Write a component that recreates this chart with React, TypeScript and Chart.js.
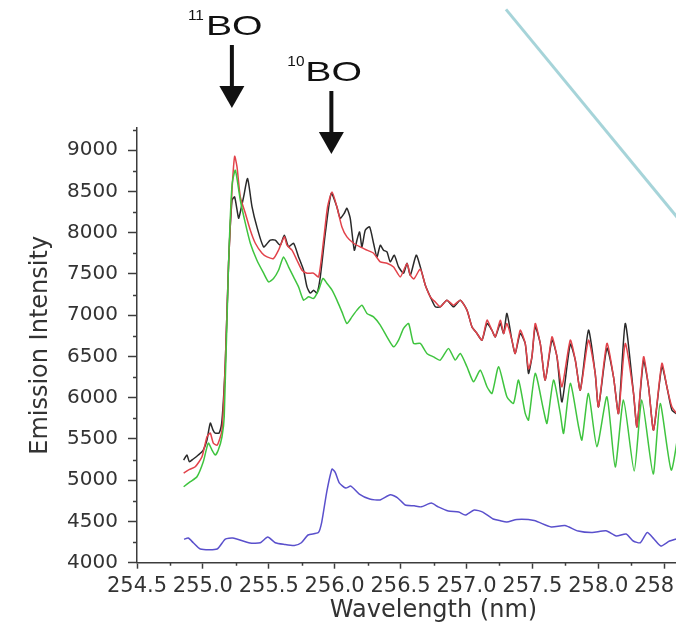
import React, { useEffect, useRef } from 'react';
import { Chart, registerables } from 'chart.js';

Chart.register(...registerables);

// ---- Axis settings ----
const X_MIN = 254.5;
const X_MAX = 259.0;
const Y_MIN = 4000;
const Y_MAX = 9270;
const xTickValues = [254.5, 255.0, 255.5, 256.0, 256.5, 257.0, 257.5, 258.0, 258.5, 259.0];
const xMinorTickValues = [254.75, 255.25, 255.75, 256.25, 256.75, 257.25, 257.75, 258.25, 258.75];
const yTickValues = [4000, 4500, 5000, 5500, 6000, 6500, 7000, 7500, 8000, 8500, 9000];
const yMinorTickValues = [4250, 4750, 5250, 5750, 6250, 6750, 7250, 7750, 8250, 8750, 9250];
const X_TITLE = 'Wavelength (nm)';
const Y_TITLE = 'Emission Intensity';

// ---- Peak annotations (isotope mass, wavelength in nm) ----
const peakMasses = ['11', '10'];
const peakWavelengths = [255.22, 255.975];

// ---- Series: [wavelength nm, intensity] ----
const blackPoints: number[][] = [
  [254.854, 5244], [254.879, 5305], [254.897, 5224], [254.927, 5257], [254.965, 5305], [255.003, 5366],
  [255.031, 5487], [255.056, 5693], [255.077, 5608], [255.094, 5571], [255.124, 5575], [255.145, 5729],
  [255.17, 6420], [255.195, 7631], [255.221, 8394], [255.241, 8434], [255.271, 8176], [255.284, 8252],
  [255.309, 8434], [255.339, 8657], [255.373, 8313], [255.41, 8071], [255.461, 7829], [255.511, 7910],
  [255.549, 7910], [255.587, 7849], [255.618, 7970], [255.65, 7829], [255.688, 7873], [255.726, 7707],
  [255.764, 7546], [255.79, 7344], [255.815, 7268], [255.84, 7304], [255.866, 7268], [255.891, 7465],
  [255.929, 7994], [255.974, 8479], [256.017, 8313], [256.042, 8176], [256.073, 8237], [256.093, 8297],
  [256.118, 8176], [256.149, 7789], [256.169, 7910], [256.189, 8010], [256.207, 7828], [256.232, 8031],
  [256.265, 8071], [256.295, 7873], [256.321, 7707], [256.346, 7849], [256.371, 7789], [256.397, 7768],
  [256.422, 7647], [256.452, 7728], [256.485, 7586], [256.523, 7510], [256.549, 7631], [256.574, 7486],
  [256.619, 7728], [256.65, 7586], [256.688, 7364], [256.726, 7223], [256.764, 7102], [256.802, 7102],
  [256.852, 7183], [256.902, 7102], [256.953, 7183], [257.004, 7062], [257.042, 6859], [257.08, 6779],
  [257.118, 6698], [257.156, 6900], [257.193, 6819], [257.219, 6738], [257.257, 6900], [257.282, 6779],
  [257.307, 7022], [257.345, 6698], [257.37, 6537], [257.408, 6780], [257.446, 6658], [257.471, 6295],
  [257.497, 6496], [257.522, 6860], [257.56, 6658], [257.598, 6214], [257.649, 6700], [257.687, 6496],
  [257.725, 5950], [257.788, 6650], [257.826, 6456], [257.864, 6092], [257.926, 6819], [257.977, 6295],
  [258.002, 5890], [258.066, 6600], [258.116, 6254], [258.154, 5810], [258.205, 6900], [258.268, 6052],
  [258.294, 5648], [258.344, 6450], [258.382, 6133], [258.42, 5608], [258.483, 6380], [258.521, 6133],
  [258.559, 5850], [258.6, 5800],
];

const redPoints: number[][] = [
  [254.854, 5087], [254.889, 5123], [254.942, 5163], [254.993, 5284], [255.031, 5527], [255.056, 5571],
  [255.079, 5450], [255.109, 5426], [255.145, 5608], [255.17, 6420], [255.195, 7631], [255.221, 8515],
  [255.241, 8927], [255.259, 8798], [255.284, 8434], [255.322, 8237], [255.36, 8031], [255.398, 7873],
  [255.449, 7752], [255.487, 7707], [255.536, 7688], [255.574, 7789], [255.618, 7950], [255.638, 7849],
  [255.676, 7789], [255.714, 7667], [255.752, 7546], [255.79, 7510], [255.84, 7510], [255.878, 7465],
  [255.916, 7910], [255.946, 8313], [255.98, 8495], [256.017, 8313], [256.055, 8071], [256.093, 7950],
  [256.143, 7873], [256.194, 7828], [256.245, 7789], [256.295, 7752], [256.346, 7647], [256.397, 7631],
  [256.447, 7586], [256.498, 7465], [256.549, 7627], [256.574, 7486], [256.601, 7440], [256.65, 7560],
  [256.688, 7364], [256.726, 7223], [256.764, 7160], [256.802, 7102], [256.852, 7183], [256.902, 7122],
  [256.953, 7183], [257.004, 7062], [257.042, 6859], [257.08, 6779], [257.118, 6698], [257.156, 6940],
  [257.193, 6819], [257.219, 6738], [257.257, 6940], [257.282, 6779], [257.307, 6900], [257.345, 6698],
  [257.37, 6537], [257.408, 6819], [257.446, 6658], [257.471, 6350], [257.497, 6496], [257.522, 6900],
  [257.56, 6658], [257.598, 6214], [257.649, 6738], [257.687, 6496], [257.725, 6133], [257.788, 6698],
  [257.826, 6456], [257.864, 6092], [257.926, 6698], [257.977, 6295], [258.002, 5890], [258.066, 6658],
  [258.116, 6254], [258.154, 5810], [258.205, 6658], [258.268, 6052], [258.294, 5648], [258.344, 6496],
  [258.382, 6133], [258.42, 5608], [258.483, 6416], [258.521, 6133], [258.559, 5890], [258.6, 5800],
];

const greenPoints: number[][] = [
  [254.854, 4921], [254.905, 4982], [254.955, 5042], [255.003, 5224], [255.041, 5450], [255.069, 5366],
  [255.094, 5305], [255.117, 5366], [255.145, 5527], [255.162, 5769], [255.195, 7631], [255.221, 8576],
  [255.246, 8758], [255.284, 8394], [255.322, 8116], [255.36, 7873], [255.41, 7667], [255.461, 7510],
  [255.499, 7404], [255.536, 7446], [255.574, 7546], [255.612, 7707], [255.65, 7586], [255.688, 7465],
  [255.726, 7344], [255.764, 7183], [255.802, 7223], [255.84, 7203], [255.878, 7304], [255.911, 7446],
  [255.942, 7385], [255.98, 7304], [256.017, 7183], [256.055, 7041], [256.093, 6900], [256.131, 6980],
  [256.169, 7062], [256.207, 7122], [256.245, 7022], [256.295, 6980], [256.346, 6880], [256.397, 6738],
  [256.447, 6617], [256.485, 6698], [256.523, 6840], [256.561, 6900], [256.599, 6658], [256.65, 6658],
  [256.7, 6537], [256.75, 6496], [256.801, 6456], [256.864, 6598], [256.915, 6456], [256.953, 6537],
  [257.004, 6375], [257.054, 6193], [257.105, 6335], [257.156, 6133], [257.194, 6052], [257.244, 6375],
  [257.307, 6012], [257.357, 5931], [257.395, 6214], [257.446, 5810], [257.471, 5729], [257.522, 6295],
  [257.585, 5850], [257.611, 5689], [257.661, 6214], [257.712, 5810], [257.737, 5568], [257.788, 6174],
  [257.851, 5648], [257.876, 5487], [257.926, 6052], [257.99, 5406], [258.066, 6012], [258.129, 5160],
  [258.192, 5971], [258.273, 5111], [258.331, 5971], [258.417, 5075], [258.47, 5931], [258.554, 5123],
  [258.62, 5700],
];

const bluePoints: number[][] = [
  [254.857, 4284], [254.889, 4299], [254.927, 4242], [254.98, 4166], [255.108, 4166], [255.17, 4287],
  [255.227, 4299], [255.357, 4239], [255.436, 4242], [255.492, 4311], [255.549, 4242], [255.618, 4221],
  [255.694, 4208], [255.747, 4242], [255.798, 4336], [255.876, 4366], [255.902, 4493], [255.941, 4869],
  [255.98, 5135], [256.005, 5093], [256.035, 4968], [256.084, 4905], [256.123, 4929], [256.187, 4832],
  [256.266, 4772], [256.344, 4760], [256.422, 4823], [256.475, 4790], [256.536, 4699], [256.604, 4690],
  [256.657, 4677], [256.733, 4723], [256.786, 4677], [256.862, 4627], [256.942, 4614], [256.991, 4578],
  [257.059, 4639], [257.124, 4614], [257.203, 4530], [257.253, 4511], [257.306, 4493], [257.383, 4524],
  [257.514, 4511], [257.643, 4433], [257.747, 4450], [257.848, 4384], [257.955, 4366], [258.059, 4387],
  [258.137, 4324], [258.212, 4348], [258.266, 4263], [258.319, 4242], [258.372, 4366], [258.423, 4287],
  [258.475, 4202], [258.541, 4263], [258.62, 4300],
];

// Faint diagonal stroke crossing the top-right corner of the figure (wavelength, intensity)
const strayLinePoints: number[][] = [[257.3, 10708], [258.78, 7837]];

const toXY = (pts: number[][]) => pts.map(([x, y]) => ({ x, y }));

const AXIS_COLOR = '#3c3c3c';
const TEXT_COLOR = '#333333';

const minorTicksPlugin = {
  id: 'minorTicks',
  afterDraw(chart: any) {
    const { ctx, scales } = chart;
    const xs = scales.x;
    const ys = scales.y;
    ctx.save();
    ctx.strokeStyle = AXIS_COLOR;
    ctx.lineWidth = 1.5;
    ctx.beginPath();
    xMinorTickValues.forEach((v) => {
      const px = Math.round(xs.getPixelForValue(v)) + 0.5;
      ctx.moveTo(px, ys.bottom);
      ctx.lineTo(px, ys.bottom + 3);
    });
    yMinorTickValues.forEach((v) => {
      if (v > Y_MAX) return;
      const py = Math.round(ys.getPixelForValue(v)) + 0.5;
      ctx.moveTo(xs.left, py);
      ctx.lineTo(xs.left - 4, py);
    });
    ctx.stroke();
    ctx.restore();
  },
};

const annotationPlugin = {
  id: 'peakArrows',
  afterDraw(chart: any) {
    const { ctx, scales } = chart;
    const xs = scales.x;
    const ys = scales.y;
    ctx.save();
    // stray diagonal stroke
    ctx.strokeStyle = 'rgba(150, 205, 210, 0.85)';
    ctx.lineWidth = 3;
    ctx.beginPath();
    ctx.moveTo(xs.getPixelForValue(strayLinePoints[0][0]), ys.getPixelForValue(strayLinePoints[0][1]));
    ctx.lineTo(xs.getPixelForValue(strayLinePoints[1][0]), ys.getPixelForValue(strayLinePoints[1][1]));
    ctx.stroke();

    peakMasses.forEach((mass, i) => {
      const ax = xs.getPixelForValue(peakWavelengths[i]);
      const dy = i * 46;
      ctx.fillStyle = '#111';
      ctx.textBaseline = 'alphabetic';
      ctx.textAlign = 'left';
      ctx.save();
      ctx.translate(ax - 44, 20 + dy);
      ctx.scale(1.1, 1);
      ctx.font = '14px "Liberation Sans", Arial, sans-serif';
      ctx.fillText(mass, 0, 0);
      ctx.restore();
      ctx.save();
      ctx.translate(ax - 26, 35 + dy);
      ctx.scale(1.4, 1);
      ctx.font = '28px "Liberation Sans", Arial, sans-serif';
      ctx.fillText('BO', 0, 0);
      ctx.restore();
      ctx.strokeStyle = '#111';
      ctx.lineWidth = 4;
      ctx.beginPath();
      ctx.moveTo(ax, 45 + dy);
      ctx.lineTo(ax, 90 + dy);
      ctx.stroke();
      ctx.beginPath();
      ctx.moveTo(ax - 12.5, 86 + dy);
      ctx.lineTo(ax + 12.5, 86 + dy);
      ctx.lineTo(ax, 108 + dy);
      ctx.closePath();
      ctx.fill();
    });
    ctx.restore();
  },
};

export default function App() {
  const canvasRef = useRef<HTMLCanvasElement | null>(null);

  useEffect(() => {
    if (!canvasRef.current) return;
    const lineDs = (label: string, pts: number[][], color: string) => ({
      label,
      data: toXY(pts),
      borderColor: color,
      backgroundColor: color,
      borderWidth: 1.5,
      pointRadius: 0,
      tension: 0.2,
      fill: false,
    });
    const chart = new Chart(canvasRef.current, {
      type: 'line',
      data: {
        datasets: [
          lineDs('green', greenPoints, '#3fc43f'),
          lineDs('red', redPoints, '#e2434b'),
          lineDs('black', blackPoints, '#2a2a2a'),
          lineDs('blue', bluePoints, '#5a50cc'),
        ],
      },
      options: {
        animation: false,
        responsive: false,
        devicePixelRatio: 1,
        layout: { padding: { top: 128, right: 40, left: 0, bottom: 0 } },
        plugins: { legend: { display: false }, tooltip: { enabled: false } },
        scales: {
          x: {
            type: 'linear',
            min: X_MIN,
            max: X_MAX,
            afterBuildTicks: (s: any) => { s.ticks = xTickValues.map((value) => ({ value })); },
            afterFit: (s: any) => { s.height = 71.3; },
            grid: { drawOnChartArea: false, drawTicks: true, tickLength: 6, tickColor: AXIS_COLOR, tickWidth: 1.5 },
            border: { color: AXIS_COLOR, width: 1.5 },
            ticks: {
              autoSkip: false,
              maxRotation: 0,
              minRotation: 0,
              padding: 5,
              color: TEXT_COLOR,
              font: { family: '"DejaVu Sans", sans-serif', size: 21 },
              callback: (v: any) => Number(v).toFixed(1),
            },
            title: {
              display: true,
              text: X_TITLE,
              color: TEXT_COLOR,
              font: { family: '"DejaVu Sans", sans-serif', size: 24 },
              padding: { top: 0, bottom: 9 },
            },
          },
          y: {
            type: 'linear',
            min: Y_MIN,
            max: Y_MAX,
            afterBuildTicks: (s: any) => { s.ticks = yTickValues.map((value) => ({ value })); },
            afterFit: (s: any) => { s.width = 137; },
            grid: { drawOnChartArea: false, drawTicks: true, tickLength: 9, tickColor: AXIS_COLOR, tickWidth: 1.5 },
            border: { color: AXIS_COLOR, width: 1.5 },
            ticks: {
              autoSkip: false,
              padding: 10,
              color: TEXT_COLOR,
              font: { family: '"DejaVu Sans", sans-serif', size: 20 },
              callback: (v: any) => String(v),
            },
            title: {
              display: true,
              text: Y_TITLE,
              color: TEXT_COLOR,
              font: { family: '"DejaVu Sans", sans-serif', size: 24 },
              padding: { top: 26, bottom: 0 },
            },
          },
        },
      },
      plugins: [minorTicksPlugin, annotationPlugin],
    } as any);
    return () => chart.destroy();
  }, []);

  return (
    <div style={{ position: 'fixed', left: 0, top: 0, width: 676, height: 634, overflow: 'hidden', background: '#fff' }}>
      <canvas ref={canvasRef} width={770} height={634} style={{ display: 'block', width: 770, height: 634 }} />
    </div>
  );
}
